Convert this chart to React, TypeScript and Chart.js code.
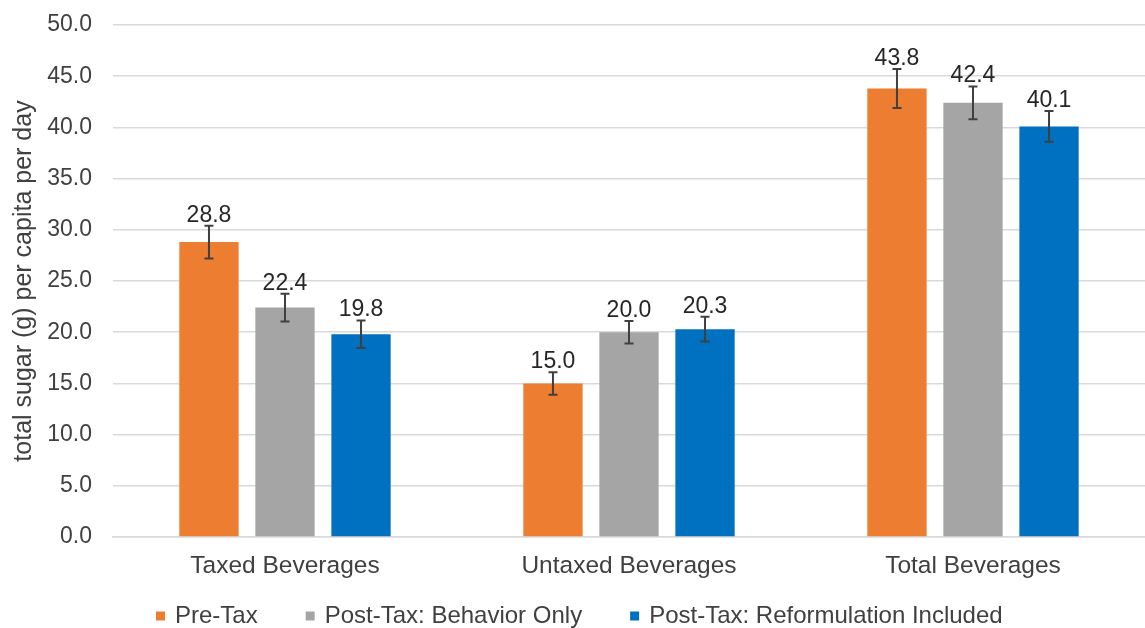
import React, { useEffect, useRef } from "react";
import { Chart, registerables } from "chart.js";

Chart.register(...registerables);

const categories = ["Taxed Beverages", "Untaxed Beverages", "Total Beverages"];
const seriesNames = ["Pre-Tax", "Post-Tax: Behavior Only", "Post-Tax: Reformulation Included"];
const preTax = [28.8, 15.0, 43.8];
const postBehavior = [22.4, 20.0, 42.4];
const postReform = [19.8, 20.3, 40.1];
const preTaxErr = [1.6, 1.1, 1.9];
const postBehaviorErr = [1.35, 1.1, 1.6];
const postReformErr = [1.35, 1.2, 1.5];
const colors = ["#ED7D31", "#A5A5A5", "#0070C0"];

const FONT = "'Liberation Sans', Arial, sans-serif";
const TEXT = "#404040";

const errorBarPlugin = {
  id: "errorBars",
  afterDatasetsDraw(chart: any) {
    const ctx = chart.ctx;
    const y = chart.scales.y;
    chart.data.datasets.forEach((ds: any, di: number) => {
      const meta = chart.getDatasetMeta(di);
      meta.data.forEach((bar: any, i: number) => {
        const v = ds.data[i];
        const e = ds.errors[i];
        const top = y.getPixelForValue(v + e);
        const bot = y.getPixelForValue(v - e);
        const x = bar.x;
        ctx.save();
        ctx.strokeStyle = "#404040";
        ctx.lineWidth = 2;
        ctx.beginPath();
        ctx.moveTo(x, top);
        ctx.lineTo(x, bot);
        ctx.moveTo(x - 4.5, top);
        ctx.lineTo(x + 4.5, top);
        ctx.moveTo(x - 4.5, bot);
        ctx.lineTo(x + 4.5, bot);
        ctx.stroke();
        ctx.fillStyle = "#262626";
        ctx.font = `23px ${FONT}`;
        ctx.textAlign = "center";
        ctx.textBaseline = "alphabetic";
        ctx.fillText(v.toFixed(1), x, top - 4);
        ctx.restore();
      });
    });
  },
};

const legendPlugin = {
  id: "customLegend",
  afterDraw(chart: any) {
    const ctx = chart.ctx;
    ctx.save();
    ctx.font = `24px ${FONT}`;
    ctx.textBaseline = "middle";
    ctx.textAlign = "left";
    let x = 156;
    const yc = 616;
    chart.data.datasets.forEach((ds: any) => {
      ctx.fillStyle = ds.backgroundColor;
      ctx.fillRect(x, yc - 4.5, 9, 9);
      ctx.fillStyle = TEXT;
      ctx.fillText(ds.label, x + 19, yc);
      x += 19 + ctx.measureText(ds.label).width + 48;
    });
    ctx.restore();
  },
};

export default function App() {
  const ref = useRef<HTMLCanvasElement>(null);
  useEffect(() => {
    if (!ref.current) return;
    const chart = new Chart(ref.current, {
      type: "bar",
      data: {
        labels: categories,
        datasets: [
          { label: seriesNames[0], data: preTax, errors: preTaxErr, backgroundColor: colors[0] } as any,
          { label: seriesNames[1], data: postBehavior, errors: postBehaviorErr, backgroundColor: colors[1] } as any,
          { label: seriesNames[2], data: postReform, errors: postReformErr, backgroundColor: colors[2] } as any,
        ],
      },
      options: {
        animation: false,
        responsive: false,
        maintainAspectRatio: false,
        layout: { padding: { top: 25, left: 0, right: 0, bottom: 41 } },
        datasets: { bar: { categoryPercentage: 0.663, barPercentage: 0.78 } },
        scales: {
          x: {
            grid: { display: false },
            border: { color: "#d9d9d9", width: 1.5 },
            ticks: { color: TEXT, font: { family: FONT, size: 24.5 }, padding: 7 },
            afterFit: (s: any) => {
              s.height = 50;
              s.paddingLeft = 0;
              s.paddingRight = 0;
            },
          },
          y: {
            min: 0,
            max: 50,
            afterFit: (s: any) => {
              s.width = 113;
              s.paddingTop = 0;
              s.paddingBottom = 0;
            },
            ticks: {
              stepSize: 5,
              color: TEXT,
              font: { family: FONT, size: 23 },
              padding: 21,
              callback: (v: any) => Number(v).toFixed(1),
            },
            grid: { color: "#d9d9d9", lineWidth: 1.5, drawTicks: false },
            border: { display: false },
            title: {
              display: true,
              text: "total sugar (g) per capita per day",
              color: TEXT,
              font: { family: FONT, size: 25 },
              padding: { top: 9, bottom: 0 },
            },
          },
        },
        plugins: {
          legend: { display: false },
          tooltip: { enabled: false },
        },
      },
      plugins: [errorBarPlugin, legendPlugin],
    });
    return () => chart.destroy();
  }, []);
  return (
    <div style={{ position: "fixed", left: 0, top: 0, width: 1145, height: 628, background: "#fff" }}>
      <canvas ref={ref} width={1145} height={628} style={{ width: 1145, height: 628 }} />
    </div>
  );
}
